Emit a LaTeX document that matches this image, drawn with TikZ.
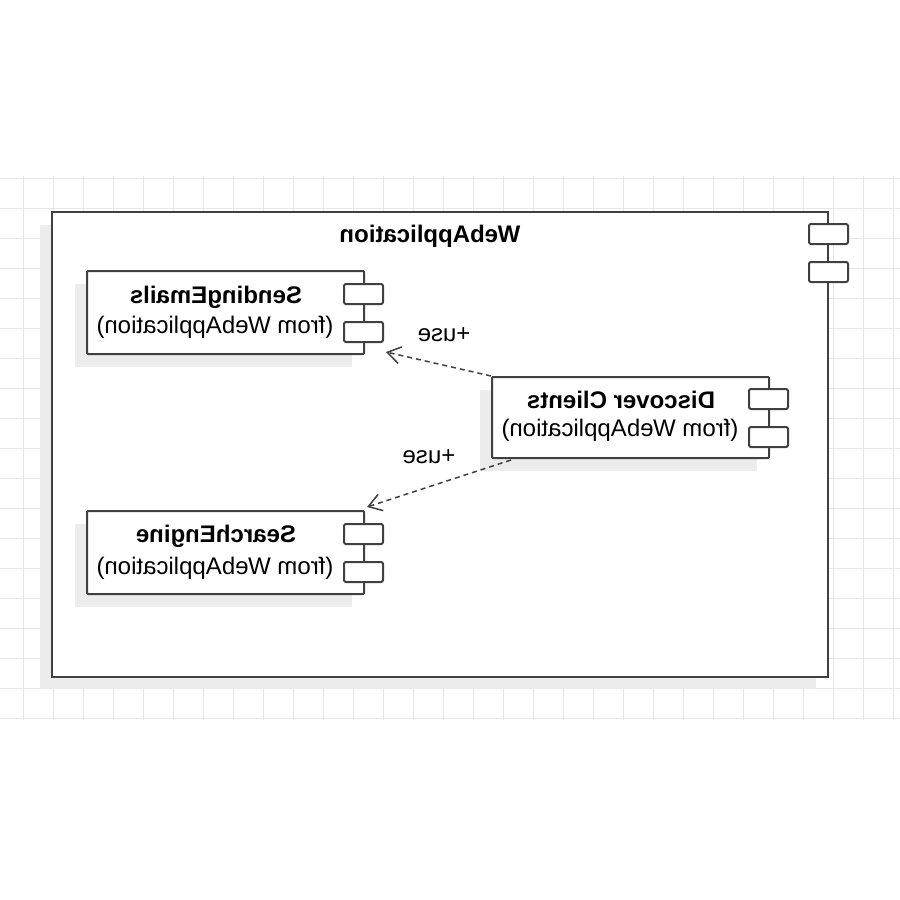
\documentclass[tikz,border=0pt]{standalone}
\usepackage{fontspec}
\setmainfont{Liberation Sans}
\usepackage{graphicx}
\usetikzlibrary{arrows.meta,calc}
\definecolor{edgec}{HTML}{404040}
\definecolor{shadowc}{HTML}{ECECEC}
\definecolor{gridc}{HTML}{E6E6E6}
\tikzset{
  compbox/.style={draw=edgec, line width=2pt, fill=white, rectangle, inner sep=0pt, rounded corners=1pt},
  iconbox/.style={draw=edgec, line width=2pt, fill=white, rectangle, inner sep=0pt, minimum width=39pt, minimum height=20pt, rounded corners=2pt},
  shadowbox/.style={fill=shadowc},
  lbl/.style={inner sep=0pt, font=\fontsize{24}{28}\selectfont},
  blbl/.style={inner sep=0pt, font=\fontsize{24}{28}\selectfont\bfseries},
  usearrow/.style={draw=edgec, line width=1.5pt, dash pattern=on 5pt off 4pt, -{Straight Barb[length=13pt,width=17pt,line width=1.5pt]}},
}
\begin{document}
\begin{tikzpicture}[x=1pt,y=-1pt]
\useasboundingbox (0,0) rectangle (900,900);
% grid
\begin{scope}
\clip (0,176) rectangle (900,720);
\foreach \gx in {23,53,...,893} \draw[gridc, line width=1pt] (\gx,176) -- (\gx,720);
\foreach \gy in {178,208,...,718} \draw[gridc, line width=1pt] (0,\gy) -- (900,\gy);
\end{scope}
% big container
\fill[shadowbox] (40,225) rectangle (816,689);
\node[compbox, minimum width=776pt, minimum height=465pt, rounded corners=0pt] (web) at (440,444.5) {};
\node[iconbox] (webi1) at (828.5,234) {};
\node[iconbox] (webi2) at (828.5,272) {};
\node[blbl] (webt) at (430,236) {\reflectbox{WebApplication}};
% SendingEmails
\fill[shadowbox] (75,284) rectangle (352,367);
\node[compbox, minimum width=277pt, minimum height=83pt] (se) at (225.5,312.5) {};
\node[iconbox] (sei1) at (363.5,294) {};
\node[iconbox] (sei2) at (363.5,332) {};
\node[blbl] (set1) at (216,297) {\reflectbox{SendingEmails}};
\node[lbl] (set2) at (215,327) {\reflectbox{(from WebApplication)}};
% Discover Clients
\fill[shadowbox] (480,390) rectangle (757,471);
\node[compbox, minimum width=277pt, minimum height=81pt] (dc) at (630.5,417.5) {};
\node[iconbox] (dci1) at (768.5,399) {};
\node[iconbox] (dci2) at (768.5,437) {};
\node[blbl] (dct1) at (621,400) {\reflectbox{Discover Clients}};
\node[lbl] (dct2) at (620,430) {\reflectbox{(from WebApplication)}};
% SearchEngine
\fill[shadowbox] (75,524) rectangle (352,607);
\node[compbox, minimum width=277pt, minimum height=83pt] (sen) at (225.5,552.5) {};
\node[iconbox] (seni1) at (363.5,534) {};
\node[iconbox] (seni2) at (363.5,572) {};
\node[blbl] (sent1) at (216,536) {\reflectbox{SearchEngine}};
\node[lbl] (sent2) at (215,568) {\reflectbox{(from WebApplication)}};
% connectors
\coordinate (t1) at ($(sei2.south east)+(2,9)$);
\draw[usearrow] (dc.north west) -- (t1);
\draw[usearrow] ($(dc.south west)+(20,1)$) -- ($(sen.north east)+(2,-3)$);
\node[lbl] (u1) at (444,335) {\reflectbox{+use}};
\node[lbl] (u2) at (429,457) {\reflectbox{+use}};
\end{tikzpicture}
\end{document}
